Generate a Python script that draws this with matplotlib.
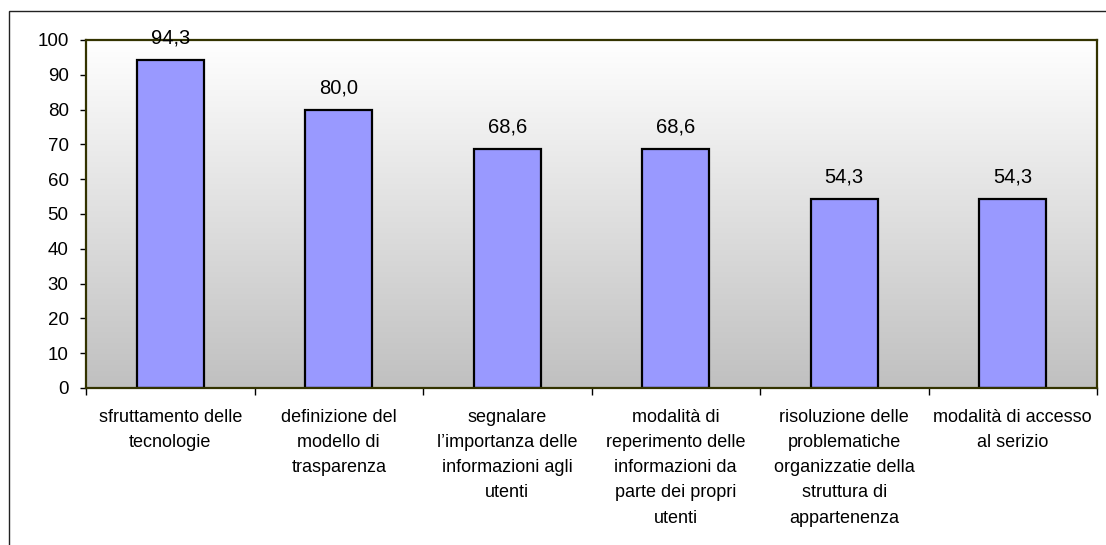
import matplotlib.pyplot as plt
import numpy as np
from matplotlib.patches import Rectangle

plt.rcParams['font.family'] = ['Liberation Sans', 'DejaVu Sans']

categories = ["sfruttamento delle\ntecnologie",
              "definizione del\nmodello di\ntrasparenza",
              "segnalare\nl\u2019importanza delle\ninformazioni agli\nutenti",
              "modalità di\nreperimento delle\ninformazioni da\nparte dei propri\nutenti",
              "risoluzione delle\nproblematiche\norganizzatie della\nstruttura di\nappartenenza",
              "modalità di accesso\nal serizio"]
values = [94.3, 80.0, 68.6, 68.6, 54.3, 54.3]
yticks = [0, 10, 20, 30, 40, 50, 60, 70, 80, 90, 100]

W, H = 1106, 545
fig = plt.figure(figsize=(W / 100, H / 100), dpi=100)
fig.patch.set_facecolor('white')

# outer chart frame (cut off at right and bottom like the original)
fig.patches.append(Rectangle((9 / W, -0.1), 1.2, (H - 11) / H + 0.1,
                             transform=fig.transFigure, fill=False,
                             edgecolor='#222222', linewidth=1.0))

ax = fig.add_axes([86 / W, (H - 388) / H, (1097 - 86) / W, (388 - 40) / H])
n = len(values)
x = np.arange(n)

# gradient background white (top) -> grey (bottom)
grad = np.linspace(1.0, 0.753, 256).reshape(-1, 1)
ax.imshow(np.dstack([grad, grad, grad]), aspect='auto', origin='upper',
          extent=(-0.5, n - 0.5, 0, 100), zorder=0, interpolation='bilinear')

ax.bar(x, values, width=0.4, color='#9999FF', edgecolor='black',
       linewidth=1.6, zorder=2)

for xi, v in zip(x, values):
    ax.annotate(f"{v:.1f}".replace('.', ','), (xi, v), xytext=(0, 9),
                textcoords='offset points', ha='center', va='bottom',
                fontsize=14.5)

ax.set_xlim(-0.5, n - 0.5)
ax.set_ylim(0, 100)
ax.set_yticks(yticks)
ax.tick_params(axis='y', labelsize=13.5, length=4.5, width=1, pad=8,
               direction='out')
ax.set_xticks(x)
ax.set_xticklabels(categories, fontsize=13, linespacing=1.63, va='top')
ax.tick_params(axis='x', length=0, pad=15)
ax.set_xticks(np.arange(-0.5, n, 1.0), minor=True)
ax.tick_params(axis='x', which='minor', length=5, width=1, direction='out')

for s in ax.spines.values():
    s.set_color('#333300')
    s.set_linewidth(1.6)

fig.savefig('out.png', dpi=100)
